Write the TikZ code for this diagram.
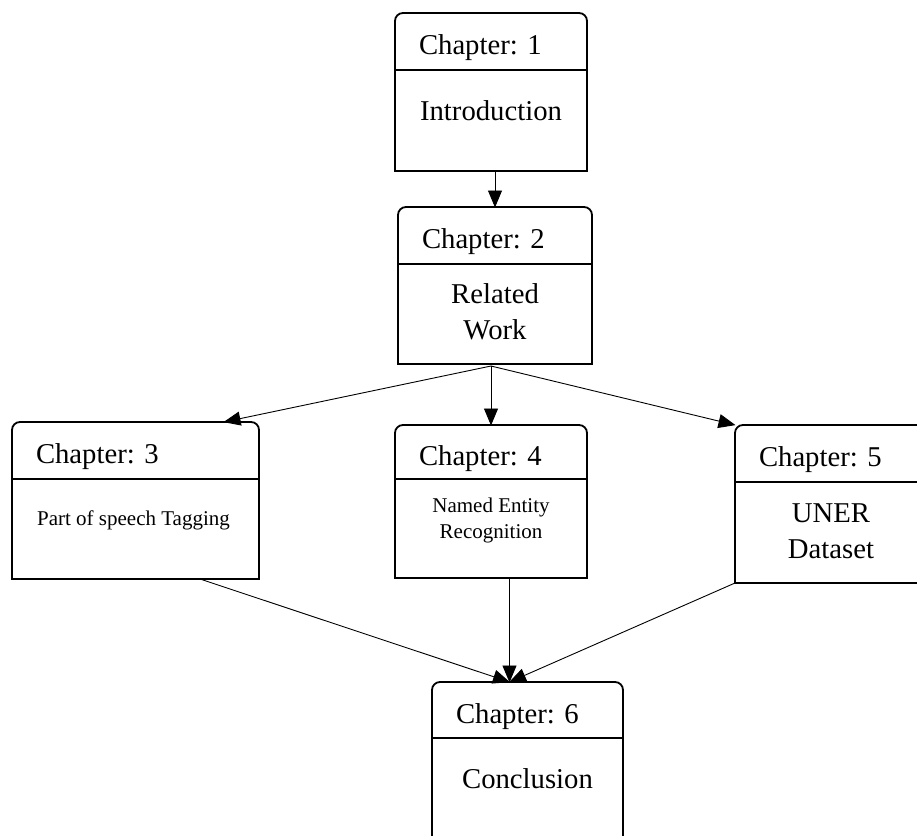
\documentclass[tikz,border=0pt]{standalone}
\usepackage{fontspec}
\setmainfont{Liberation Serif}
\usetikzlibrary{arrows.meta,calc}
\frenchspacing

\begin{document}
\begin{tikzpicture}[x=1pt,y=-1pt,
  frame/.style={line width=1.8pt},
  head/.style={outer sep=0pt,inner ysep=0pt,inner xsep=24pt,align=left,anchor=north west,
    font=\fontsize{28.7}{35}\selectfont,text height=26pt,text depth=0pt},
  body/.style={frame,draw,fill=white,outer sep=0pt,anchor=north west,inner sep=0pt},
  big/.style={font=\fontsize{28.7}{36}\selectfont,align=center,anchor=north,inner sep=0pt},
  small/.style={font=\fontsize{21}{26}\selectfont,align=center,anchor=north,inner sep=0pt},
  link/.style={line width=0.9pt,-{Triangle[length=17pt,width=14pt]},shorten >=-0.5pt}
]
\useasboundingbox (0,0) rectangle (917,835);
\clip (0,0) rectangle (917,835);

% Chapter 1
\node[head,text width=144pt,minimum height=57pt] (h1) at (395,13) {Chapter: 1};
\node[body,minimum width=192pt,minimum height=101pt] (b1) at (h1.south west) {};
\node[big] (t1) at ($(b1.north)+(0,30.4)$) {Introduction};

% Chapter 2
\node[head,text width=146pt,minimum height=57pt] (h2) at (398,207) {Chapter: 2};
\node[body,minimum width=194pt,minimum height=100pt] (b2) at (h2.south west) {};
\node[big] (t2) at ($(b2.north)+(0,19.4)$) {Related\\Work};

% Chapter 3
\node[head,text width=199pt,minimum height=57pt] (h3) at (12,422) {Chapter: 3};
\node[body,minimum width=247pt,minimum height=100pt] (b3) at (h3.south west) {};
\node[small] (t3) at ($(b3.north)+(-2,31.7)$) {Part of speech Tagging};

% Chapter 4
\node[head,text width=144pt,minimum height=54pt] (h4) at (395,425) {Chapter: 4};
\node[body,minimum width=192pt,minimum height=99pt] (b4) at (h4.south west) {};
\node[small] (t4) at ($(b4.north)+(0,18.7)$) {Named Entity\\Recognition};

% Chapter 5
\node[head,text width=144pt,minimum height=57pt] (h5) at (735,425) {Chapter: 5};
\node[body,minimum width=192pt,minimum height=101pt] (b5) at (h5.south west) {};
\node[big] (t5) at ($(b5.north)+(0,21)$) {UNER\\Dataset};

% Chapter 6
\node[head,text width=143pt,minimum height=56pt] (h6) at (432,682) {Chapter: 6};
\node[body,minimum width=191pt,minimum height=130pt] (b6) at (h6.south west) {};
\node[big] (t6) at ($(b6.north)+(0,30.4)$) {Conclusion};

% Header outlines: rounded top corners, closed below by the body frame
\foreach \n in {1,...,6}
  \draw[frame,rounded corners=8pt] (h\n.south west) |- (h\n.north) -| (h\n.south east);

% Connectors
\draw[link] (b1.south -| h2.north) -- (h2.north);
\coordinate (fork) at ($(b2.south -| h4.north)+(0,2)$);
\draw[link] (fork) -- ($(h3.north east)+(-35,0)$);
\draw[link] (fork) -- (h4.north);
\draw[link] (fork) -- (h5.north west);
\coordinate (in6) at ($(h6.north)+(-18,0)$);
\draw[link] ($(b3.south east)+(-59,0)$) -- (in6);
\draw[link] (b4.south -| in6) -- (in6);
\draw[link] (b5.south west) -- (in6);
\end{tikzpicture}
\end{document}
